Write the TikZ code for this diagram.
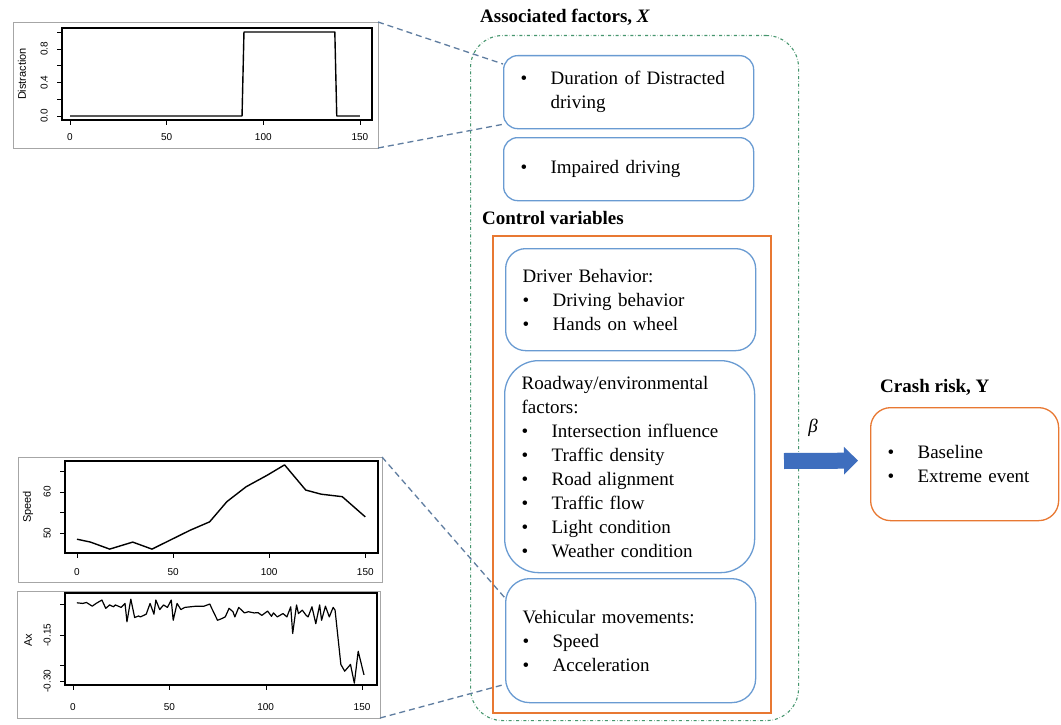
\documentclass[tikz,border=0pt]{standalone}
\usepackage{fontspec}
\setmainfont{Liberation Serif}
\setsansfont{Liberation Sans}
\usetikzlibrary{arrows.meta}

\definecolor{boxblue}{RGB}{105,155,210}
\definecolor{ctrlorange}{RGB}{232,120,50}
\definecolor{arrowblue}{RGB}{62,110,190}
\definecolor{linkblue}{RGB}{95,125,160}
\definecolor{assocgreen}{RGB}{70,150,110}

\newcommand{\bul}[1]{\makebox[30pt][l]{\textbullet}#1}

\tikzset{
  factor/.style={draw=boxblue, line width=1.3pt, fill=white, anchor=north west,
    text width=216pt, inner xsep=17pt, inner ysep=3pt, align=left,
    font=\fontsize{19}{24}\selectfont},
  heading/.style={anchor=west, inner sep=0pt, font=\fontsize{19}{24}\selectfont\bfseries},
  plotframe/.style={draw=gray!70, line width=0.8pt},
  plotbox/.style={line width=1.2pt},
  series/.style={line width=1.4pt, line join=round},
  ticklabel/.style={font=\sffamily\fontsize{10}{12}\selectfont, inner sep=0pt},
  axtitle/.style={font=\sffamily\fontsize{11}{13}\selectfont, rotate=90, inner sep=0pt},
  plotlink/.style={linkblue, line width=1.3pt, dash pattern=on 6pt off 4pt},
  bigarrow/.style={arrowblue, line width=16pt, -{Triangle[length=14pt,width=27pt]}},
}

\begin{document}
\begin{tikzpicture}[x=1pt, y=-1pt]
\fill[white] (0,0) rectangle (1061,725);
\useasboundingbox (0,0) rectangle (1061,725);

% distraction series
\draw[plotframe] (13,22) rectangle (378,148);
\begin{scope}[shift={(70,116)}, x=1.933pt, y=84pt]
\draw[plotbox] (-4.14,-0.048) rectangle (156.2,1.048);
\foreach \x in {0,50,100,150}
    \draw (\x,-0.048) -- ++(0,-5pt) ++(0,-8pt) node[ticklabel,anchor=north] {\x};
\foreach \y in {0,0.2,0.4,0.6,0.8,1}
    \draw (-4.14,\y) -- ++(-5pt,0);
\foreach \y in {0.0,0.4,0.8}
    \path (-4.14,\y) ++(-14pt,0) node[ticklabel,rotate=90,anchor=south] {\y};
\draw[series] (0,0) -- (89,0) -- (90,1) -- (137,1) -- (138,0) -- (150,0);
\end{scope}
\node[axtitle] (distrtitle) at (22,74) {Distraction};
\coordinate (distr-ne) at (378,22);
\coordinate (distr-se) at (378,148);

% speed series
\draw[plotframe] (18,457) rectangle (382,582);
\begin{scope}[shift={(77,739.5)}, x=1.922pt, y=4.13pt]
\draw[plotbox] (-6.24,45.16) rectangle (156.6,67.43);
\foreach \x in {0,50,100,150}
    \draw (\x,45.16) -- ++(0,-5pt) ++(0,-10pt) node[ticklabel,anchor=north] {\x};
\foreach \y in {50,55,60,65}
    \draw (-6.24,\y) -- ++(-5pt,0);
\foreach \y in {50,60}
    \path (-6.24,\y) ++(-14pt,0) node[ticklabel,rotate=90,anchor=south] {\y};
\draw[series] plot coordinates {(0,48.5) (7,47.8) (17,46.1) (29,47.8) (39,46.1)
    (49,48.4) (59,50.7) (69,52.7) (78,57.6) (88,61.2) (99,64) (108,66.5)
    (119,60.4) (127,59.4) (138,58.8) (150,53.9)};
\end{scope}
\node[axtitle] (speedtitle) at (28,507) {Speed};
\coordinate (speed-ne) at (382,457);

% acceleration series
\draw[plotframe] (17,591) rectangle (380,718);
\begin{scope}[shift={(73,589)}, x=1.927pt, y=306.7pt]
\draw[plotbox] (-4.15,-0.313) rectangle (157.8,-0.013);
\foreach \x in {0,50,100,150}
    \draw (\x,-0.313) -- ++(0,-5pt) ++(0,-13pt) node[ticklabel,anchor=north] {\x};
\foreach \y in {-0.05,-0.15,-0.25,-0.3}
    \draw (-4.15,\y) -- ++(-5pt,0);
\foreach \y in {-0.15,-0.30}
    \path (-4.15,\y) ++(-14pt,0) node[ticklabel,rotate=90,anchor=south] {\y};
\draw[series, line width=1.2pt] plot coordinates {(2,-0.045) (5,-0.047) (7,-0.044)
    (10,-0.056) (12,-0.047) (15,-0.036) (17,-0.063) (19,-0.052) (21,-0.058)
    (22,-0.052) (25,-0.060) (27,-0.047) (28,-0.107) (30,-0.033) (32,-0.093)
    (34,-0.088) (35,-0.091) (38,-0.082) (40,-0.047) (42,-0.082) (43,-0.036)
    (45,-0.067) (47,-0.052) (49,-0.060) (51,-0.036) (52,-0.102) (54,-0.047)
    (56,-0.067) (58,-0.060) (61,-0.058) (64,-0.056) (68,-0.056) (71,-0.049)
    (72,-0.063) (75,-0.102) (77,-0.097) (79,-0.091) (81,-0.063) (83,-0.074)
    (84,-0.091) (86,-0.060) (89,-0.078) (91,-0.074) (94,-0.078) (96,-0.077)
    (98,-0.086) (101,-0.072) (103,-0.089) (104,-0.078) (106,-0.091) (109,-0.080)
    (111,-0.091) (113,-0.058) (114,-0.145) (116,-0.052) (117,-0.080) (119,-0.069)
    (121,-0.086) (122,-0.091) (124,-0.058) (126,-0.113) (128,-0.052) (129,-0.102)
    (131,-0.056) (133,-0.091) (135,-0.060) (136,-0.069) (139,-0.246) (141,-0.268)
    (144,-0.246) (146,-0.307) (148,-0.203) (151,-0.280)};
\end{scope}
\node[axtitle] (acceltitle) at (28,640) {Ax};
\coordinate (accel-se) at (380,718);

% factor groups
\node[draw=assocgreen, dash dot, line width=1.1pt, rounded corners=32pt,
      minimum width=328pt, minimum height=685pt, anchor=north west, inner sep=0pt] (assoc) at (470,35) {};
\node[draw=ctrlorange, line width=2pt, minimum width=278pt, minimum height=477pt,
      anchor=north west, inner sep=0pt] (ctrl) at (492,235) {};

\node[heading] (assochead) at (480,17) {Associated factors, \textit{X}};
\node[heading] (ctrlhead) at (482,218) {Control variables};
\node[heading] (crashhead) at (880,387) {Crash risk, Y};

\node[factor, rounded corners=14pt, minimum height=73pt] (dur) at (503,55)
    {\bul{Duration of Distracted}\\\hspace*{30pt}driving};
\node[factor, rounded corners=14pt, minimum height=63pt] (imp) at (503,137)
    {\bul{Impaired driving}};
\node[factor, rounded corners=20pt, minimum height=102pt] (drv) at (505,248)
    {Driver Behavior:\\\bul{Driving behavior}\\\bul{Hands on wheel}};
\node[factor, rounded corners=34pt, minimum height=212pt] (road) at (504,360)
    {Roadway/environmental\\factors:\\\bul{Intersection influence}\\\bul{Traffic density}\\
     \bul{Road alignment}\\\bul{Traffic flow}\\\bul{Light condition}\\\bul{Weather condition}};
\node[factor, rounded corners=24pt, minimum height=124pt] (veh) at (505,578)
    {Vehicular movements:\\\bul{Speed}\\\bul{Acceleration}};

\node[factor, draw=ctrlorange, rounded corners=20pt, text width=154pt, minimum height=113pt] (crash) at (870,407)
    {\bul{Baseline}\\\bul{Extreme event}};

% links from plots
\draw[plotlink] (distr-ne) -- ([yshift=-9pt]dur.north west);
\draw[plotlink] (distr-se) -- ([yshift=5pt]dur.south west);
\draw[plotlink] (speed-ne) -- ([yshift=-20pt]veh.north west);
\draw[plotlink] (accel-se) -- ([yshift=19pt]veh.south west);

\draw[bigarrow] ([xshift=12pt,yshift=13.5pt]ctrl.east) -- ([xshift=-12pt,yshift=3.5pt]crash.west);
\node[inner sep=0pt, font=\fontsize{19}{24}\selectfont] (beta) at (813,428) {\textit{β}};

\end{tikzpicture}
\end{document}
